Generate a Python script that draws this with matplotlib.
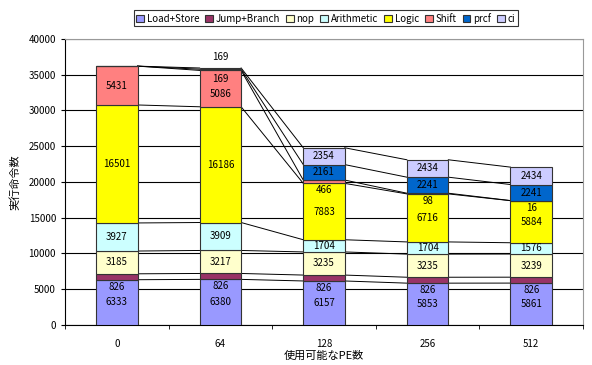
import matplotlib
matplotlib.use("Agg")
import matplotlib.pyplot as plt
import numpy as np

plt.rcParams['font.family'] = ['Noto Sans CJK JP', 'DejaVu Sans']

pe_counts = ['0', '64', '128', '256', '512']
series_names = ['Load+Store', 'Jump+Branch', 'nop', 'Arithmetic', 'Logic', 'Shift', 'prcf', 'ci']

load_store = [6333, 6380, 6157, 5853, 5861]
jump_branch = [826, 826, 826, 826, 826]
nop = [3185, 3217, 3235, 3235, 3239]
arithmetic = [3927, 3909, 1704, 1704, 1576]
logic = [16501, 16186, 7883, 6716, 5884]
shift = [5431, 5086, 466, 98, 16]
prcf = [0, 169, 2161, 2241, 2241]
ci = [0, 169, 2354, 2434, 2434]

colors = ['#9999FF', '#993366', '#FFFFCC', '#CCFFFF', '#FFFF00', '#FF8080', '#0066CC', '#CCCCFF']

values = np.array([load_store, jump_branch, nop, arithmetic, logic, shift, prcf, ci], dtype=float)
tops = np.cumsum(values, axis=0)
bottoms = tops - values

fig = plt.figure(figsize=(5.92, 3.65), dpi=100)
ax = fig.add_axes([0.1098, 0.1096, 0.875, 0.7836])

x = np.arange(len(pe_counts))
width = 0.4

for k, name in enumerate(series_names):
    ax.bar(x, values[k], width, bottom=bottoms[k], color=colors[k], edgecolor='#333333',
           linewidth=0.8, label=name, zorder=3)

# series lines between neighbouring bars
for k in range(len(series_names)):
    for i in range(len(x) - 1):
        ax.plot([x[i] + width / 2, x[i + 1] - width / 2], [tops[k][i], tops[k][i + 1]],
                color='black', linewidth=0.7, zorder=2)

# data labels: thin segments get their number just under them,
# except the top ci segment at 64 which goes above the bar
for k in range(len(series_names)):
    for i in range(len(x)):
        v = values[k][i]
        if v == 0:
            continue
        if (k, i) == (7, 1):
            y, dy = tops[k][i], 8
        elif (k, i) == (6, 1):
            y, dy = bottoms[k][i], -6
        elif v < 1000:
            y, dy = bottoms[k][i], -5
        elif (k, i) == (5, 1):
            y, dy = (bottoms[k][i] + tops[k][i]) / 2, -3.6
        else:
            y, dy = (bottoms[k][i] + tops[k][i]) / 2, 0
        ax.annotate(f"{int(v)}", (x[i], y), xytext=(0, dy), textcoords='offset points',
                    ha='center', va='center', fontsize=7, zorder=5)

ax.set_xlim(-0.5, len(x) - 0.5)
ax.set_ylim(0, 40000)
ax.set_yticks(np.arange(0, 40001, 5000))
ax.set_xticks(x)
ax.set_xticklabels(pe_counts)
ax.set_xticks(np.arange(-0.5, len(x), 1), minor=True)
ax.tick_params(axis='x', which='major', length=0, labelsize=7, pad=10)
ax.tick_params(axis='x', which='minor', length=3, direction='out')
ax.tick_params(axis='y', length=3, direction='out', labelsize=7)

ax.yaxis.grid(True, color='black', linewidth=0.8, zorder=0)
ax.set_axisbelow(True)
for side in ['top', 'right']:
    ax.spines[side].set_color('#999999')
ax.spines['left'].set_color('black')
ax.spines['bottom'].set_color('black')

ax.set_xlabel('使用可能なPE数', fontsize=8, labelpad=1)
ax.set_ylabel('実行命令数', fontsize=8, labelpad=6)

leg = fig.legend(loc='upper center', bbox_to_anchor=(0.55, 0.985), ncol=8, fontsize=7,
                 frameon=True, fancybox=False, edgecolor='black', handlelength=0.8,
                 handleheight=0.8, handletextpad=0.3, columnspacing=0.6, borderpad=0.25)
leg.get_frame().set_linewidth(0.8)

fig.savefig('out.png', dpi=100)
